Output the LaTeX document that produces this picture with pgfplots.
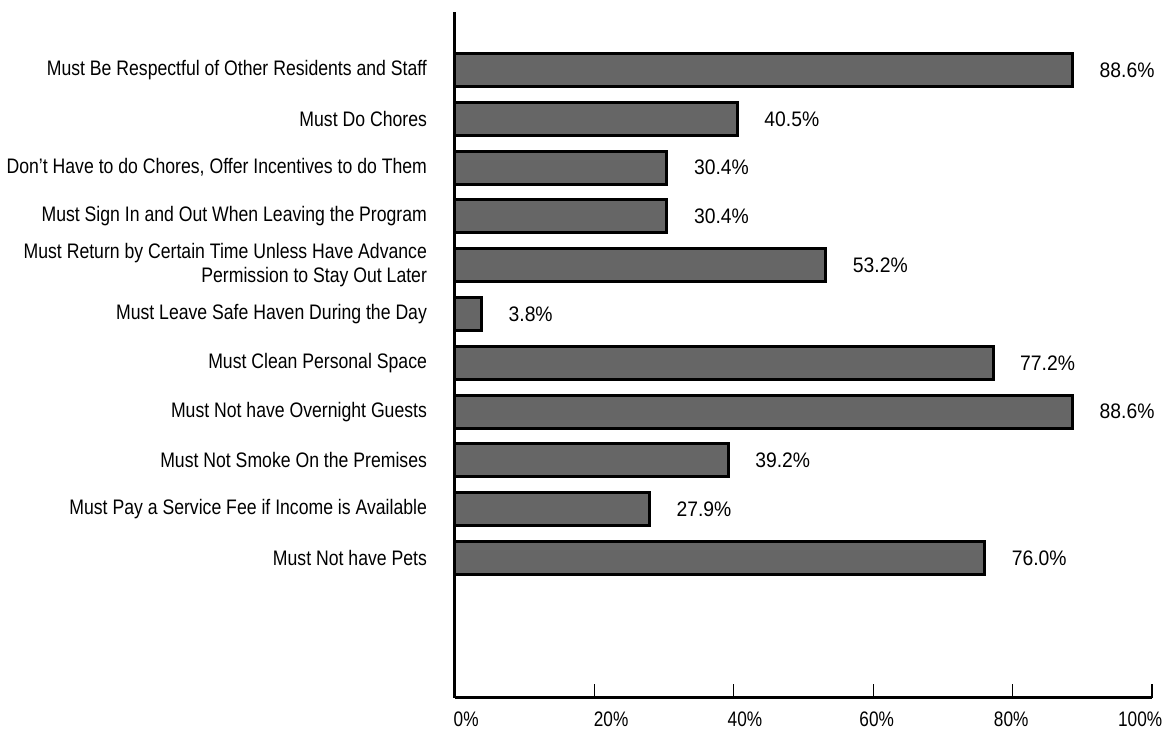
\documentclass[border=0pt]{standalone}
\usepackage{fontspec}
\setmainfont{Liberation Sans}[FakeStretch=0.84]
\newfontfamily\valfont{Liberation Sans}[FakeStretch=0.92]
\newfontfamily\tickfont{Liberation Sans}[FakeStretch=0.82]
\usepackage{pgfplots}
\pgfplotsset{compat=1.18}
\definecolor{barfill}{RGB}{102,102,102}
\begin{document}
\begin{tikzpicture}
\useasboundingbox (-227.5pt,-16.5pt) rectangle (359.5pt,349pt);
\begin{axis}[
  at={(0,0)}, anchor=south west,
  scale only axis,
  width=348.5pt, height=343pt,
  xbar, bar width=16.5pt,
  xmin=0, xmax=100,
  ymin=-1.87, ymax=12.19,
  axis x line*=bottom, axis y line*=left,
  axis line style={-, line width=1.5pt, black},
  xtick={0,20,40,60,80,100},
  xticklabels={},
  xtick align=inside,
  major tick length=7pt,
  x tick style={black, line width=0.6pt},
  extra x ticks={1.6,22.4,41.6,60.5,79.8,98.3},
  extra x tick labels={0\%,20\%,40\%,60\%,80\%,100\%},
  extra x tick style={major tick length=0pt, tick style={draw=none}},
  xticklabel style={yshift=-3.5pt, font=\tickfont\fontsize{10.5}{12}\selectfont},
  ytick={1,2,3,4,5,6,7,8,9,10,11},
  yticklabels={
    Must Not have Pets,
    Must Pay a Service Fee if Income is Available,
    Must Not Smoke On the Premises,
    Must Not have Overnight Guests,
    Must Clean Personal Space,
    Must Leave Safe Haven During the Day,
    {Must Return by Certain Time Unless Have Advance\\Permission to Stay Out Later},
    Must Sign In and Out When Leaving the Program,
    {Don't Have to do Chores, Offer Incentives to do Them},
    Must Do Chores,
    Must Be Respectful of Other Residents and Staff},
  yticklabel style={align=right, xshift=-3.5pt, font=\fontsize{10.5}{12}\selectfont},
  y tick style={draw=none},
  clip=false,
  nodes near coords={\pgfmathprintnumber[fixed,fixed zerofill,precision=1,assume math mode=true]{\pgfplotspointmeta}\%},
  nodes near coords style={anchor=west, xshift=9.5pt, black, font=\valfont\fontsize{10.5}{12}\selectfont},
]
\addplot[fill=barfill, draw=black, line width=1.5pt] coordinates {
  (76.0,1) (27.9,2) (39.2,3) (88.6,4) (77.2,5) (3.8,6)
  (53.2,7) (30.4,8) (30.4,9) (40.5,10) (88.6,11)
};
\end{axis}
\end{tikzpicture}
\end{document}
